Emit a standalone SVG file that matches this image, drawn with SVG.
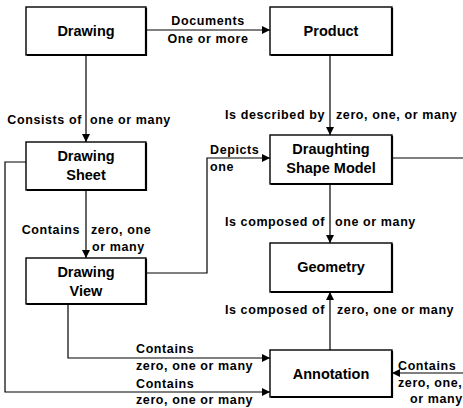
<svg xmlns="http://www.w3.org/2000/svg" width="463" height="408" viewBox="0 0 463 408">
<defs>
<marker id="ah" viewBox="0 0 10 10" refX="10" refY="5" markerWidth="9" markerHeight="8" markerUnits="userSpaceOnUse" orient="auto">
<path d="M0,0 L10,5 L0,10 z" fill="#000"/>
</marker>
</defs>
<style>
.box{fill:#fff;stroke:#000;stroke-width:1.4}
.sh{fill:none;stroke:#000;stroke-width:2.2}
.nt{font-family:"Liberation Sans",Arial,sans-serif;font-weight:bold;font-size:14.5px;text-anchor:middle;fill:#000}
.lb{font-family:"Liberation Sans",Arial,sans-serif;font-weight:bold;font-size:12.5px;letter-spacing:0.6px;fill:#000}
.e{text-anchor:end}
.c{text-anchor:middle}
.ln{fill:none;stroke:#000;stroke-width:1.2}
</style>
<rect width="463" height="408" fill="#fff"/>
<g id="connectors">
<path class="ln" d="M146,30 H270" marker-end="url(#ah)"/>
<path class="ln" d="M86,55 V142" marker-end="url(#ah)"/>
<path class="ln" d="M330,55 V135" marker-end="url(#ah)"/>
<path class="ln" d="M86,190 V258" marker-end="url(#ah)"/>
<path class="ln" d="M330,184 V243" marker-end="url(#ah)"/>
<path class="ln" d="M330,350 V292" marker-end="url(#ah)"/>
<path class="ln" d="M146,273 H207 V158 H270" marker-end="url(#ah)"/>
<path class="ln" d="M392,158 H463"/>
<path class="ln" d="M68,304 V358 H270" marker-end="url(#ah)"/>
<path class="ln" d="M26,162 H5 V392 H270" marker-end="url(#ah)"/>
<path class="ln" d="M463,373 H392" marker-end="url(#ah)"/>
<text class="lb c" x="208" y="25">Documents</text>
<text class="lb c" x="208" y="43">One or more</text>
<text class="lb e" x="82" y="124">Consists of</text>
<text class="lb" x="90" y="124">one or many</text>
<text class="lb e" x="325" y="119">Is described by</text>
<text class="lb" x="336" y="119">zero, one, or many</text>
<text class="lb" x="210" y="154">Depicts</text>
<text class="lb" x="210" y="171">one</text>
<text class="lb e" x="80" y="234">Contains</text>
<text class="lb" x="91" y="234">zero, one</text>
<text class="lb" x="92" y="251">or many</text>
<text class="lb e" x="325" y="226">Is composed of</text>
<text class="lb" x="335" y="226">one or many</text>
<text class="lb e" x="325" y="314">Is composed of</text>
<text class="lb" x="337" y="314">zero, one or many</text>
<text class="lb" x="136" y="353">Contains</text>
<text class="lb" x="136" y="370">zero, one or many</text>
<text class="lb" x="136" y="388">Contains</text>
<text class="lb" x="136" y="404">zero, one or many</text>
<text class="lb" x="398" y="370">Contains</text>
<text class="lb" x="398" y="387">zero, one,</text>
<text class="lb" x="410" y="403">or many</text>
</g>
<g id="drawing">
<rect class="box" x="26" y="7" width="120" height="48"/>
<path class="sh" d="M146,8 V55 H27"/>
<text class="nt" x="86" y="36">Drawing</text>
</g>
<g id="product">
<rect class="box" x="270" y="7" width="122" height="48"/>
<path class="sh" d="M392,8 V55 H271"/>
<text class="nt" x="331" y="36">Product</text>
</g>
<g id="drawing-sheet">
<rect class="box" x="26" y="142" width="120" height="48"/>
<path class="sh" d="M146,143 V190 H27"/>
<text class="nt" x="86" y="161">Drawing</text>
<text class="nt" x="86" y="180">Sheet</text>
</g>
<g id="draughting-shape-model">
<rect class="box" x="270" y="135" width="122" height="49"/>
<path class="sh" d="M392,136 V184 H271"/>
<text class="nt" x="331" y="154">Draughting</text>
<text class="nt" x="331" y="173">Shape Model</text>
</g>
<g id="drawing-view">
<rect class="box" x="26" y="258" width="120" height="46"/>
<path class="sh" d="M146,259 V304 H27"/>
<text class="nt" x="86" y="277">Drawing</text>
<text class="nt" x="86" y="296">View</text>
</g>
<g id="geometry">
<rect class="box" x="270" y="243" width="122" height="49"/>
<path class="sh" d="M392,244 V292 H271"/>
<text class="nt" x="331" y="272">Geometry</text>
</g>
<g id="annotation">
<rect class="box" x="270" y="350" width="122" height="47"/>
<path class="sh" d="M392,351 V397 H271"/>
<text class="nt" x="331" y="379">Annotation</text>
</g>
</svg>
